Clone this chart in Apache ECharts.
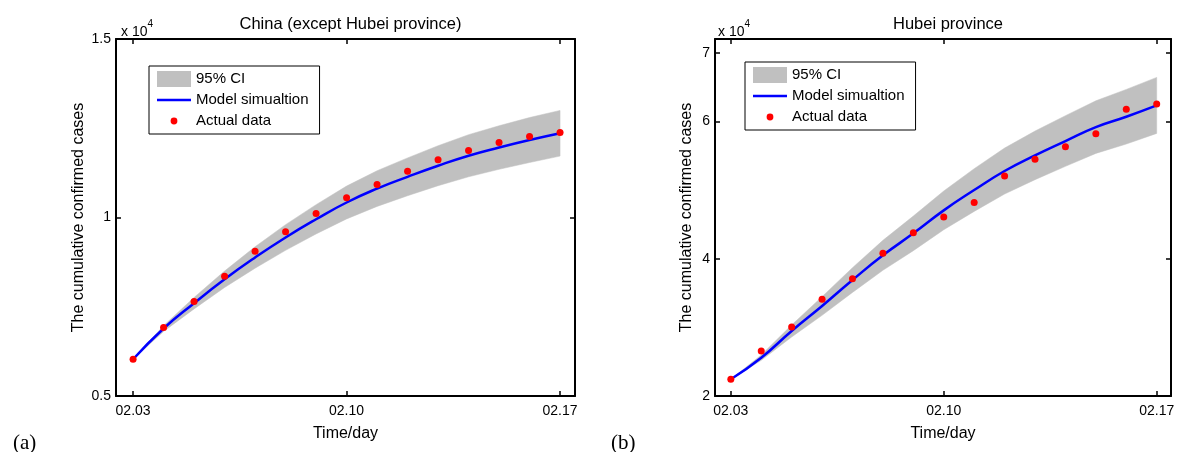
<!DOCTYPE html>
<html>
<head>
<meta charset="utf-8">
<script src="https://cdn.jsdelivr.net/npm/echarts@6/dist/echarts.min.js"></script>
<style>
  html, body { margin: 0; padding: 0; background: #fff; }
  #chart { width: 1179px; height: 452px; }
</style>
</head>
<body>
<div id="chart"></div>
<script>
// Dates of the fitting window (day 0 = 02.03)
const dates = ['02.03', '02.04', '02.05', '02.06', '02.07', '02.08', '02.09', '02.10',
               '02.11', '02.12', '02.13', '02.14', '02.15', '02.16', '02.17'];
const xTickDays = [0, 7, 14];

// China except Hubei province: cumulative confirmed cases
const chinaActual = [6030, 6920, 7645, 8355, 9056, 9598, 10112, 10551, 10925, 11299, 11617, 11879, 12103, 12271, 12383];
const chinaModel  = [6030, 6890, 7600, 8270, 8880, 9440, 9950, 10420, 10810, 11140, 11450, 11730, 11960, 12170, 12360];
const chinaUpper  = [6030, 6970, 7760, 8500, 9180, 9800, 10360, 10880, 11310, 11670, 12010, 12320, 12570, 12800, 13000];
const chinaLower  = [6030, 6810, 7440, 8040, 8580, 9080, 9540, 9960, 10310, 10610, 10890, 11140, 11350, 11540, 11720];
const chinaYTicks = [5000, 10000, 15000];

// Hubei province: cumulative confirmed cases
const hubeiActual = [22430, 26550, 30050, 34080, 37090, 40780, 43790, 46070, 48200, 52040, 54470, 56310, 58200, 61750, 62520];
const hubeiModel  = [22430, 25580, 29470, 33110, 36890, 40490, 43690, 47040, 50000, 52770, 55050, 57140, 59170, 60680, 62330];
const hubeiUpper  = [22430, 25970, 30340, 34470, 38690, 42670, 46210, 49860, 53110, 56120, 58590, 60830, 63000, 64660, 66410];
const hubeiLower  = [22430, 25190, 28600, 31750, 35090, 38310, 41170, 44220, 46890, 49420, 51510, 53450, 55340, 56700, 58250];
const hubeiYTicks = [20000, 40000, 60000, 70000];

const FONT = 'Liberation Sans, Arial, sans-serif';
const BAND = '#c0c0c0';
const BLUE = '#0000ff';
const RED = '#ff0000';

const pairs = arr => arr.map((v, i) => [i, v]);

// legend glyphs laid out in a 34x16 cell
const dotIcon = 'path://M0,0M34,16M13.6,8a3.4,3.4 0 1,0 6.8,0a3.4,3.4 0 1,0 -6.8,0Z';
const lineIcon = 'path://M0,0M34,16M0,6.75L34,6.75L34,9.25L0,9.25Z';

const boxLine = { show: true, onZero: false, lineStyle: { color: '#000', width: 2 } };

function xAxes(grid, min, max) {
  const tick = { show: true, inside: true, length: 5, customValues: xTickDays, lineStyle: { color: '#000', width: 1.5 } };
  return [
    {
      type: 'value', gridIndex: grid, position: 'bottom', min: min, max: max, z: 10,
      axisLine: boxLine, axisTick: tick, splitLine: { show: false },
      axisLabel: { customValues: xTickDays, formatter: v => dates[v], color: '#000',
                   fontFamily: FONT, fontSize: 14, margin: 8 },
      name: 'Time/day', nameLocation: 'middle', nameGap: 30,
      nameTextStyle: { color: '#000', fontFamily: FONT, fontSize: 16 }
    },
    {
      type: 'value', gridIndex: grid, position: 'top', min: min, max: max, z: 10,
      axisLine: boxLine, axisTick: tick, splitLine: { show: false },
      axisLabel: { show: false }
    }
  ];
}

function yAxes(grid, min, max, ticks, nameGap) {
  const tick = { show: true, inside: true, length: 5, customValues: ticks, lineStyle: { color: '#000', width: 1.5 } };
  return [
    {
      type: 'value', gridIndex: grid, position: 'left', min: min, max: max, z: 10,
      axisLine: boxLine, axisTick: tick, splitLine: { show: false },
      axisLabel: { customValues: ticks, formatter: v => String(v / 10000), color: '#000',
                   fontFamily: FONT, fontSize: 14, margin: 5 },
      name: 'The cumulative confirmed cases', nameLocation: 'middle', nameGap: nameGap, nameRotate: 90,
      nameTextStyle: { color: '#000', fontFamily: FONT, fontSize: 16 }
    },
    {
      type: 'value', gridIndex: grid, position: 'right', min: min, max: max, z: 10,
      axisLine: boxLine, axisTick: tick, splitLine: { show: false },
      axisLabel: { show: false }
    }
  ];
}

// Confidence band as one polygon: upper bound left-to-right, lower bound back
function bandSeries(axisIdx, upper, lower) {
  return {
    name: '95% CI', type: 'custom', xAxisIndex: axisIdx, yAxisIndex: axisIdx,
    data: upper.map((u, i) => [i, u, lower[i]]),
    encode: { x: 0, y: [1, 2] },
    itemStyle: { color: BAND },
    silent: true, z: 1,
    renderItem: function (params, api) {
      if (params.dataIndex !== 0) return null;
      const pts = [];
      for (let i = 0; i < upper.length; i++) pts.push(api.coord([i, upper[i]]));
      for (let i = lower.length - 1; i >= 0; i--) pts.push(api.coord([i, lower[i]]));
      return {
        type: 'polygon',
        shape: { points: pts },
        style: { fill: BAND, stroke: BAND, lineWidth: 0.5 }
      };
    }
  };
}

function panelSeries(axisIdx, upper, lower, model, actual) {
  const ax = { xAxisIndex: axisIdx, yAxisIndex: axisIdx };
  return [
    bandSeries(axisIdx, upper, lower),
    Object.assign({
      name: 'Model simualtion', type: 'line', data: pairs(model),
      symbol: 'none', smooth: true, lineStyle: { color: BLUE, width: 2.5 },
      itemStyle: { color: BLUE }, z: 2
    }, ax),
    Object.assign({
      name: 'Actual data', type: 'scatter', data: pairs(actual),
      symbolSize: 7, itemStyle: { color: RED, opacity: 1 }, z: 3
    }, ax)
  ];
}

function legendAt(left, top) {
  return {
    orient: 'vertical', left: left, top: top, z: 20,
    itemWidth: 34, itemHeight: 16, itemGap: 5,
    padding: [5, 11, 5, 8],
    borderColor: '#000', borderWidth: 1, backgroundColor: '#fff',
    selectedMode: false,
    textStyle: { color: '#000', fontFamily: FONT, fontSize: 15 },
    data: [
      { name: '95% CI', icon: 'rect', itemStyle: { color: BAND } },
      { name: 'Model simualtion', icon: lineIcon, itemStyle: { color: BLUE } },
      { name: 'Actual data', icon: dotIcon, itemStyle: { color: RED } }
    ]
  };
}

const scaleRich = {
  base: { fontFamily: FONT, fontSize: 14, fontWeight: 'normal', color: '#000', verticalAlign: 'bottom', lineHeight: 20 },
  sup: { fontFamily: FONT, fontSize: 10, fontWeight: 'normal', color: '#000', verticalAlign: 'top', lineHeight: 20 }
};

const option = {
  animation: false,
  backgroundColor: '#fff',
  title: [
    { text: 'China (except Hubei province)', left: 345.5, top: 11, textAlign: 'center',
      textStyle: { fontFamily: FONT, fontSize: 16.5, fontWeight: 'normal', color: '#000' } },
    { text: 'Hubei province', left: 943, top: 11, textAlign: 'center',
      textStyle: { fontFamily: FONT, fontSize: 16.5, fontWeight: 'normal', color: '#000' } },
    { text: '{base|x 10}{sup|4}', left: 116, top: 14,
      textStyle: { fontWeight: 'normal', rich: scaleRich } },
    { text: '{base|x 10}{sup|4}', left: 713, top: 14,
      textStyle: { fontWeight: 'normal', rich: scaleRich } },
    { text: '(a)', left: 8, top: 428,
      textStyle: { fontFamily: 'Liberation Serif, DejaVu Serif, serif', fontSize: 21, fontWeight: 'normal', color: '#000' } },
    { text: '(b)', left: 606, top: 428,
      textStyle: { fontFamily: 'Liberation Serif, DejaVu Serif, serif', fontSize: 21, fontWeight: 'normal', color: '#000' } }
  ],
  grid: [
    { left: 116, top: 39, width: 459, height: 357 },
    { left: 715, top: 39, width: 456, height: 357 }
  ],
  xAxis: [].concat(xAxes(0, -0.56, 14.49), xAxes(1, -0.52, 14.47)),
  yAxis: [].concat(yAxes(0, 5000, 15000, chinaYTicks, 29), yAxes(1, 20000, 72000, hubeiYTicks, 20)),
  legend: [legendAt(149, 66), legendAt(745, 62)],
  series: [].concat(
    panelSeries(0, chinaUpper, chinaLower, chinaModel, chinaActual),
    panelSeries(2, hubeiUpper, hubeiLower, hubeiModel, hubeiActual)
  )
};

echarts.init(document.getElementById('chart'), null, { renderer: 'canvas' }).setOption(option);
</script>
</body>
</html>
